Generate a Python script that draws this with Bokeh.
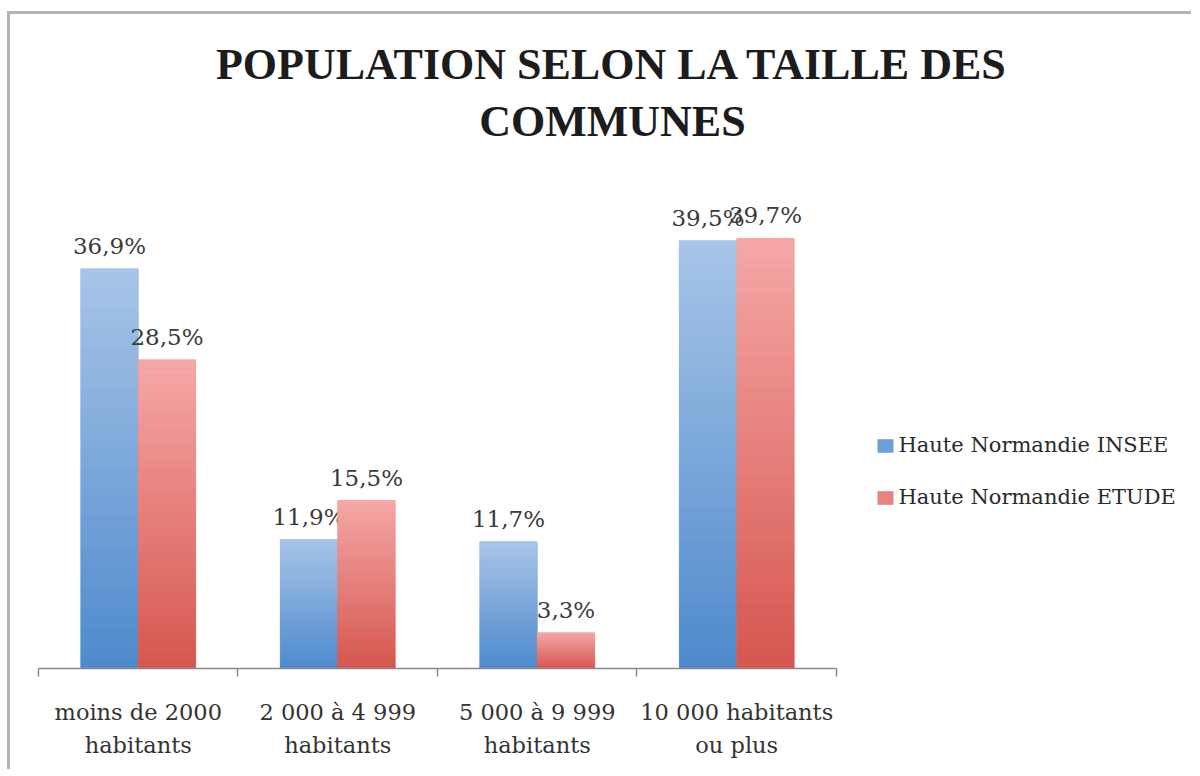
import numpy as np
from bokeh.plotting import figure
from bokeh.models import Range1d, FixedTicker, Legend, LegendItem, ColumnDataSource, Label
from bokeh.core.properties import value
from bokeh.embed import file_html
from bokeh.resources import INLINE

# ---- data ----
categories = ["moins de 2000\nhabitants", "2 000 à 4 999\nhabitants",
              "5 000 à 9 999\nhabitants", "10 000 habitants\nou plus"]
series_names = ["Haute Normandie INSEE", "Haute Normandie ETUDE"]
insee = [36.9, 11.9, 11.7, 39.5]
etude = [28.5, 15.5, 3.3, 39.7]
title_lines = ["POPULATION SELON LA TAILLE DES", "COMMUNES"]

FONT = "DejaVu Serif"
TFONT = "Liberation Serif"
blue_top, blue_bot, blue_mid = (168, 197, 232), (78, 138, 204), "#6f9fd9"
red_top, red_bot, red_mid = (245, 168, 167), (214, 86, 79), "#e68480"

ncat = len(categories)
p = figure(width=1184, height=758, output_backend="svg", toolbar_location=None,
           x_range=Range1d(-0.5, 5.2945), y_range=Range1d(0, 60.38),
           min_border_left=28, min_border_right=0, min_border_top=0,
           min_border_bottom=104)
p.styles = {"border-top": "3px solid #b4b4b4", "border-left": "3px solid #b4b4b4",
            "margin-top": "11px", "margin-left": "7px"}
p.outline_line_color = None
p.grid.visible = False
p.yaxis.visible = False
p.background_fill_color = "white"

xs = np.arange(ncat)
bw = 0.288
series = [(insee, -bw / 2, blue_mid, blue_top, blue_bot),
          (etude, bw / 2, red_mid, red_top, red_bot)]

legend_items = []
N = 40
for (vals, off, mid, ctop, cbot), name in zip(series, series_names):
    src = ColumnDataSource(dict(x=xs + off, top=vals))
    r = p.vbar(x="x", top="top", width=bw, source=src, fill_color=mid, line_color=None)
    legend_items.append(LegendItem(label=name, renderers=[r]))
    # vertical gradient (light top, dark bottom) per bar
    L, R, B, T, C = [], [], [], [], []
    for xi, v in zip(xs + off, vals):
        for k in range(N):
            f = (k + 0.5) / N
            col = tuple(int(round(cbot[j] + (ctop[j] - cbot[j]) * f)) for j in range(3))
            L.append(xi - bw / 2); R.append(xi + bw / 2)
            B.append(v * k / N); T.append(v * (k + 1) / N)
            C.append("#%02x%02x%02x" % col)
    p.quad(left=L, right=R, bottom=B, top=T, fill_color=C, line_color=C, line_width=0.6)
    # value labels
    p.text(x=list(xs + off), y=vals, text=[f"{v:.1f}".replace(".", ",") + "%" for v in vals],
           text_align="center", text_baseline="bottom", y_offset=-10,
           text_font=value(FONT), text_font_size="23px", text_color="#3a3a3a")

# axis (limited to the category span)
ax = p.xaxis[0]
ax.bounds = (-0.5, ncat - 0.5)
ax.ticker = FixedTicker(ticks=list(xs), minor_ticks=list(np.arange(ncat + 1) - 0.5))
ax.major_label_overrides = {int(i): c for i, c in zip(xs, categories)}
ax.axis_line_color = "#8a8a8a"
ax.axis_line_width = 1.5
ax.major_tick_line_color = None
ax.major_tick_out = 0
ax.major_tick_in = 0
ax.minor_tick_line_color = "#8a8a8a"
ax.minor_tick_line_width = 1.5
ax.minor_tick_out = 8
ax.minor_tick_in = 0
ax.major_label_standoff = 22
ax.major_label_text_font = FONT
ax.major_label_text_font_size = "22.5px"
ax.major_label_text_color = "#333333"
ax.major_label_text_line_height = 1.3

# title (two centred lines)
for txt, yv in zip(title_lines, [55.76, 50.50]):
    p.add_layout(Label(x=2.377, y=yv, text=txt, text_align="center",
                       text_baseline="alphabetic", text_font=TFONT,
                       text_font_style="bold", text_font_size="44px",
                       text_color="#1c1c1c"))

legend = Legend(items=legend_items, location=(836.5, 157), orientation="vertical",
                glyph_width=20, glyph_height=17, label_standoff=4, label_height=28,
                spacing=24, padding=0, margin=0, border_line_color=None,
                background_fill_alpha=0, label_text_font=FONT, label_text_font_size="21px",
                label_text_color="#2a2a2a")
p.add_layout(legend, "center")

open("out.html", "w").write(file_html(p, INLINE))
